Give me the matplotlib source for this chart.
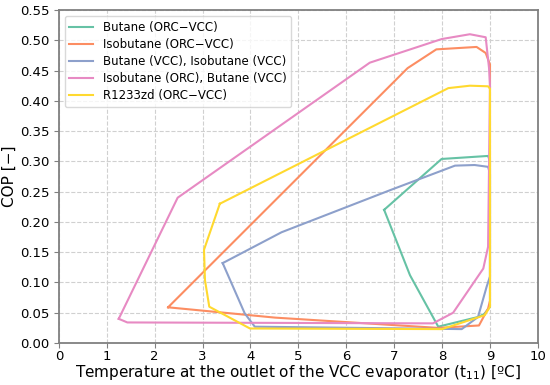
import matplotlib as mpl
import matplotlib.pyplot as plt

# Closed operating envelopes
butane_t = [6.79, 7.99, 8.96, 9.0, 9.0, 8.88, 8.75, 7.92, 7.33, 6.79]
butane_cop = [0.220, 0.304, 0.309, 0.300, 0.060, 0.048, 0.043, 0.027, 0.112, 0.220]

isobutane_t = [2.28, 7.28, 7.88, 8.72, 8.91, 9.0, 9.0, 8.96, 8.77, 7.92, 4.51, 2.28]
isobutane_cop = [0.059, 0.454, 0.485, 0.489, 0.479, 0.460, 0.070, 0.057, 0.029, 0.025, 0.042, 0.059]

mix1_t = [3.42, 4.65, 6.90, 8.27, 8.68, 8.96, 9.0, 9.0, 8.93, 8.75, 8.41, 4.09, 3.88, 3.42]
mix1_cop = [0.132, 0.183, 0.252, 0.293, 0.294, 0.291, 0.280, 0.110, 0.093, 0.043, 0.023, 0.027, 0.049, 0.132]

mix2_t = [1.25, 2.48, 6.49, 7.99, 8.58, 8.91, 8.98, 9.0, 8.96, 8.86, 8.23, 7.81, 1.43, 1.25]
mix2_cop = [0.040, 0.240, 0.463, 0.502, 0.510, 0.505, 0.454, 0.424, 0.159, 0.123, 0.050, 0.0325, 0.034, 0.040]

r1233zd_t = [3.36, 8.13, 8.58, 8.96, 9.0, 9.0, 8.89, 8.0, 3.99, 3.14, 3.05, 3.03, 3.36]
r1233zd_cop = [0.230, 0.421, 0.425, 0.424, 0.420, 0.060, 0.046, 0.023, 0.024, 0.060, 0.104, 0.154, 0.230]

labels = [
    "Butane (ORC\u2212VCC)",
    "Isobutane (ORC\u2212VCC)",
    "Butane (VCC), Isobutane (VCC)",
    "Isobutane (ORC), Butane (VCC)",
    "R1233zd (ORC\u2212VCC)",
]
colors = ["#66c2a5", "#fc8d62", "#8da0cb", "#e78ac3", "#ffd92f"]

mpl.rcParams["font.family"] = "DejaVu Sans"

fig = plt.figure(figsize=(5.5, 3.85), dpi=100)
ax = fig.add_axes([0.107, 0.109, 0.871, 0.865])

series = [
    (butane_t, butane_cop),
    (isobutane_t, isobutane_cop),
    (mix1_t, mix1_cop),
    (mix2_t, mix2_cop),
    (r1233zd_t, r1233zd_cop),
]
for (t, cop), lab, col in zip(series, labels, colors):
    ax.plot(t, cop, color=col, lw=1.5, label=lab)

ax.set_xlim(0, 10)
ax.set_ylim(0, 0.55)
ax.set_xticks(range(0, 11))
ax.set_yticks([i * 0.05 for i in range(12)])
ax.yaxis.set_major_formatter(mpl.ticker.FormatStrFormatter("%.2f"))
ax.grid(True, ls="--", color="#d0d0d0", lw=0.8)
ax.set_axisbelow(True)

for s in ax.spines.values():
    s.set_color("#808080")
    s.set_linewidth(1.3)
ax.tick_params(colors="#808080", labelcolor="black", labelsize=9.5, length=3.5)
ax.tick_params(axis="x", pad=1.5)

ax.set_xlabel("Temperature at the outlet of the VCC evaporator (t$_{11}$) [ºC]", fontsize=11, labelpad=0)
ax.set_ylabel("COP [\u2212]", fontsize=11, labelpad=2)

ax.legend(loc="upper left", fontsize=8.5, frameon=True, framealpha=0.8,
          edgecolor="#d0d0d0", labelspacing=0.35)

fig.savefig("out.png", dpi=100)
